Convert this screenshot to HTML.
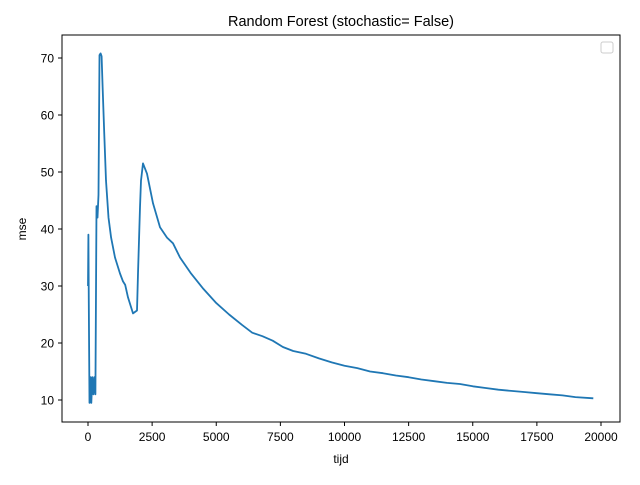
<!DOCTYPE html>
<html><head><meta charset="utf-8"><style>
body{margin:0;background:#fff;}
svg text{font-family:"Liberation Sans","DejaVu Sans",sans-serif;fill:#000;}
</style></head><body>
<svg id="chart" width="640" height="480" xmlns="http://www.w3.org/2000/svg">
<rect width="640" height="480" fill="#fff"/>
<text x="341" y="26" font-size="14.5" text-anchor="middle">Random Forest (stochastic= False)</text>
<g id="ticks"></g>
<path id="line" fill="none" stroke="#1f77b4" stroke-width="1.8" stroke-linejoin="round"/>
<rect x="62" y="35" width="558" height="387" fill="none" stroke="#000" stroke-width="1"/>
<rect x="601" y="42" width="12" height="11" rx="2" fill="#fff" stroke="#ccc"/>
<text x="341" y="463" font-size="12" text-anchor="middle">tijd</text>
<text x="26" y="229" font-size="12" text-anchor="middle" transform="rotate(-90 26 229)">mse</text>
</svg>
<script>
const xs=[0,15,30,60,100,130,170,210,250,290,330,370,410,450,490,530,570,630,700,800,900,1052,1247,1364,1450,1559,1754,1910,1949,2026,2065,2143,2299,2533,2806,3079,3313,3585,4000,4500,5000,5500,6000,6400,6800,7200,7600,8000,8500,9000,9500,10000,10500,11000,11500,12000,12500,13000,13500,14000,14500,15000,15500,16000,16500,17000,17500,18000,18500,19000,19700];
const ys=[30,39,27,9.5,14,9.5,14,11,14,11,44,42,46,70.5,70.8,70.3,65,57,48.5,42,38.5,35,32.2,30.8,30.2,28,25.2,25.7,32.2,43.8,48.5,51.5,49.7,44.5,40.3,38.5,37.5,35,32.3,29.5,27,25,23.2,21.8,21.2,20.4,19.3,18.6,18.1,17.3,16.6,16,15.6,15,14.7,14.3,14,13.6,13.3,13,12.8,12.4,12.1,11.8,11.6,11.4,11.2,11,10.8,10.5,10.3];
const xTicks=[0,2500,5000,7500,10000,12500,15000,17500,20000];
const yTicks=[10,20,30,40,50,60,70];
const X=v=>88+(v-0)*(601-88)/20000;
const Y=v=>400-(v-10)*(400-58)/60;
document.getElementById('line').setAttribute('d',xs.map((x,i)=>(i?'L':'M')+X(x).toFixed(1)+','+Y(ys[i]).toFixed(1)).join(''));
const g=document.getElementById('ticks');const ns='http://www.w3.org/2000/svg';
xTicks.forEach(t=>{const l=document.createElementNS(ns,'line');


l.setAttribute('x1',X(t));l.setAttribute('x2',X(t));l.setAttribute('y1',422);l.setAttribute('y2',426);l.setAttribute('stroke','#000');g.appendChild(l);
const s=document.createElementNS(ns,'text');


s.setAttribute('x',X(t));s.setAttribute('y',441);s.setAttribute('font-size','12');s.setAttribute('text-anchor','middle');s.textContent=t;g.appendChild(s);});
yTicks.forEach(t=>{const l=document.createElementNS(ns,'line');


l.setAttribute('x1',58);l.setAttribute('x2',62);l.setAttribute('y1',Y(t));l.setAttribute('y2',Y(t));l.setAttribute('stroke','#000');g.appendChild(l);
const s=document.createElementNS(ns,'text');


s.setAttribute('x',54);s.setAttribute('y',Y(t)+4.5);s.setAttribute('font-size','12');s.setAttribute('text-anchor','end');s.textContent=t;g.appendChild(s);});
</script>
</body></html>
